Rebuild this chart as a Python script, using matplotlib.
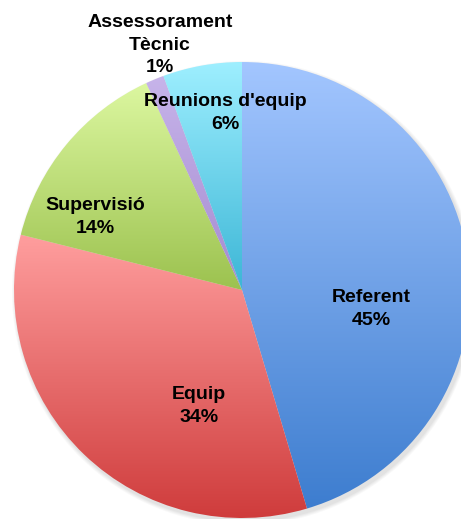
import numpy as np
import matplotlib.pyplot as plt
from matplotlib.colors import LinearSegmentedColormap
from matplotlib.patches import Circle

# dades del gràfic
labels = ['Referent', 'Equip', 'Supervisió', 'Assessorament\nTècnic', "Reunions d'equip"]
values = [45.4, 33.5, 14.2, 1.3, 5.6]
pct_text = ['45%', '34%', '14%', '1%', '6%']
top_colors = ['#a3c6ff', '#ff9e9e', '#dcf7a0', '#c7b4ea', '#9eefff']
bottom_colors = ['#3d7dcf', '#cf3c3c', '#9cc24f', '#a58bd0', '#3cb6d6']
label_pos = [(371, 210), (199, 113), (95, 302), (160, 474), (225, 406)]

W, H = 461, 519
cx, cy, r = 242, 229, 228

fig = plt.figure(figsize=(W / 100, H / 100), dpi=100)
ax = fig.add_axes([0, 0, 1, 1])

# ombra suau
for k, a in enumerate([0.05, 0.05, 0.06, 0.07]):
    ax.add_patch(Circle((cx + 2, cy - 3), r + 4 - k, color='#808080', alpha=a, lw=0, zorder=0))

wedges, _ = ax.pie(values, center=(cx, cy), radius=r, startangle=90, counterclock=False,
                   wedgeprops=dict(linewidth=0, facecolor='none'))

grad = np.linspace(0, 1, 256).reshape(-1, 1)
for w, c0, c1 in zip(wedges, top_colors, bottom_colors):
    w.set_zorder(1)
    bb = w.get_path().get_extents(w.get_patch_transform())
    cmap = LinearSegmentedColormap.from_list('g', [c1, c0])
    im = ax.imshow(grad, cmap=cmap, aspect='auto', origin='lower',
                   extent=[bb.x0, bb.x1, bb.y0, bb.y1], zorder=2, interpolation='bilinear')
    im.set_clip_path(w)

for lab, p, (x, y) in zip(labels, pct_text, label_pos):
    ax.text(x, y, lab + '\n' + p, ha='center', va='center', fontsize=14,
            fontweight='bold', family=['Liberation Sans', 'DejaVu Sans'],
            linespacing=1.45, zorder=5)

ax.set_xlim(0, W)
ax.set_ylim(0, H)
ax.set_aspect('auto')
ax.axis('off')

fig.savefig('out.png', dpi=100)
